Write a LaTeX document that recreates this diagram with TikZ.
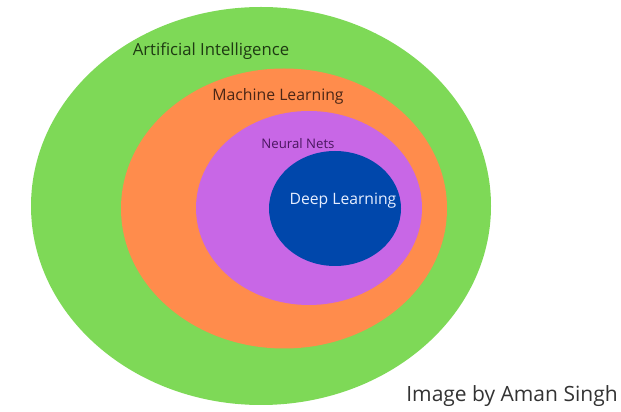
\documentclass[tikz,border=0pt]{standalone}
\usepackage{fontspec}
\setmainfont{Open Sans}
\definecolor{aigreen}{HTML}{7ED957}
\definecolor{mlorange}{HTML}{FF8C4C}
\definecolor{nnpurple}{HTML}{C867E6}
\definecolor{dlblue}{HTML}{0047AB}
\definecolor{aitext}{HTML}{1E3A12}
\definecolor{mltext}{HTML}{4A2616}
\definecolor{nntext}{HTML}{4A1660}
\definecolor{dltext}{HTML}{E6EEFF}
\definecolor{crtext}{HTML}{333333}
\begin{document}
\begin{tikzpicture}[x=1pt,y=1pt,
  lbl/.style={inner sep=0pt, anchor=center}]
\useasboundingbox (0,0) rectangle (621,412);
\fill[white] (0,0) rectangle (621,412);
% ellipses (image coords: y_tikz = 412 - y)
\fill[aigreen] (261,206) ellipse [x radius=230, y radius=199];
\fill[mlorange] (284,203.5) ellipse [x radius=163, y radius=140];
\fill[nnpurple] (309,204) ellipse [x radius=113, y radius=97];
\fill[dlblue] (335,203.5) ellipse [x radius=66, y radius=57.5];
% labels
\node[lbl, text=aitext, font=\fontsize{16.7}{19}\selectfont] (ai) at (211,361) {Artificial Intelligence};
\node[lbl, text=mltext, font=\fontsize{15.8}{18}\selectfont] (ml) at (278,316) {Machine Learning};
\node[lbl, text=nntext, font=\fontsize{13.2}{15}\selectfont] (nn) at (298,268) {Neural Nets};
\node[lbl, text=dltext, font=\fontsize{15.7}{18}\selectfont] (dl) at (343,211) {Deep Learning};
\node[lbl, text=crtext, font=\fontsize{21}{24}\selectfont] (cr) at (512,16) {Image by Aman Singh};
\end{tikzpicture}
\end{document}
